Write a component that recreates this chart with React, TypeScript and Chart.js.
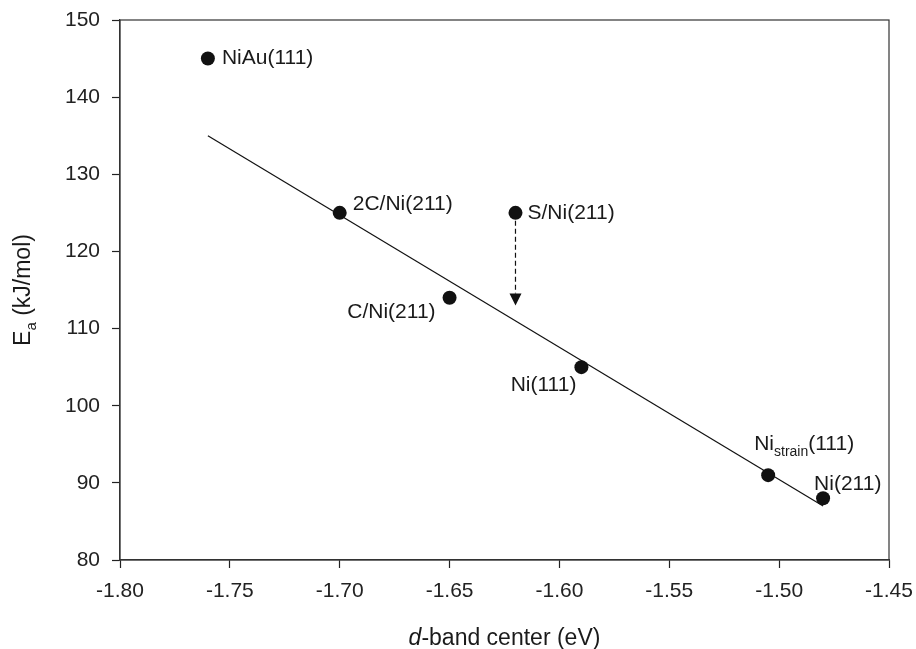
import React, { useEffect, useRef } from "react";
import { Chart, registerables } from "chart.js";

Chart.register(...registerables);

// ---- data ----
const pointNames = ["NiAu(111)", "2C/Ni(211)", "S/Ni(211)", "C/Ni(211)", "Ni(111)", "Ni_strain(111)", "Ni(211)"];
const dBandCenter = [-1.76, -1.70, -1.62, -1.65, -1.59, -1.505, -1.48];
const activationEnergy = [145, 125, 125, 114, 105, 91, 88];
const fitX = [-1.76, -1.48];
const fitY = [135, 87];
const arrowX = -1.62;
const arrowFromY = 125;
const arrowToY = 113;
const xTicks = [-1.8, -1.75, -1.7, -1.65, -1.6, -1.55, -1.5, -1.45];
const yTicks = [80, 90, 100, 110, 120, 130, 140, 150];

// ---- styles / label placement ----
const FONT = "'Liberation Sans', Arial, Helvetica, sans-serif";
const labelPlacement: { dx: number; dy: number; align: CanvasTextAlign }[] = [
  { dx: 14, dy: 0, align: "left" },
  { dx: 13, dy: -9, align: "left" },
  { dx: 12, dy: 0, align: "left" },
  { dx: -14, dy: 14, align: "right" },
  { dx: -5, dy: 18, align: "right" },
  { dx: -14, dy: -31, align: "left" },
  { dx: -9, dy: -14, align: "left" },
];

const annotationPlugin = {
  id: "annotations",
  afterDatasetsDraw(chart: any) {
    const { ctx, chartArea, scales } = chart;
    const xs = scales.x;
    const ys = scales.y;
    ctx.save();
    // frame
    ctx.strokeStyle = "#333";
    ctx.lineWidth = 1.2;
    ctx.strokeRect(chartArea.left, chartArea.top, chartArea.right - chartArea.left, chartArea.bottom - chartArea.top);

    // arrow
    const ax = xs.getPixelForValue(arrowX);
    const ay0 = ys.getPixelForValue(arrowFromY) + 8;
    const ay1 = ys.getPixelForValue(arrowToY);
    const head = 12;
    ctx.strokeStyle = "#111";
    ctx.lineWidth = 1.2;
    ctx.setLineDash([5, 3]);
    ctx.beginPath();
    ctx.moveTo(ax, ay0);
    ctx.lineTo(ax, ay1 - head);
    ctx.stroke();
    ctx.setLineDash([]);
    ctx.fillStyle = "#111";
    ctx.beginPath();
    ctx.moveTo(ax - 6, ay1 - head);
    ctx.lineTo(ax + 6, ay1 - head);
    ctx.lineTo(ax, ay1);
    ctx.closePath();
    ctx.fill();

    // point labels
    ctx.fillStyle = "#1a1a1a";
    ctx.textBaseline = "middle";
    const big = `21px ${FONT}`;
    const small = `14px ${FONT}`;
    pointNames.forEach((name, i) => {
      const px = xs.getPixelForValue(dBandCenter[i]);
      const py = ys.getPixelForValue(activationEnergy[i]);
      const p = labelPlacement[i];
      const tx = px + p.dx;
      const ty = py + p.dy;
      if (name.includes("_")) {
        const base = name.split("_")[0];
        const rest = name.split("_")[1];
        const m = rest.match(/^([a-z]+)(.*)$/);
        const sub = m ? m[1] : "";
        const after = m ? m[2] : rest;
        ctx.textAlign = "left";
        ctx.font = big;
        const w1 = ctx.measureText(base).width;
        ctx.font = small;
        const w2 = ctx.measureText(sub).width;
        ctx.font = big;
        const w3 = ctx.measureText(after).width;
        let sx = tx;
        if (p.align === "right") sx = tx - (w1 + w2 + w3);
        ctx.font = big;
        ctx.fillText(base, sx, ty);
        ctx.font = small;
        ctx.fillText(sub, sx + w1, ty + 8);
        ctx.font = big;
        ctx.fillText(after, sx + w1 + w2, ty);
      } else {
        ctx.font = big;
        ctx.textAlign = p.align;
        ctx.fillText(name, tx, ty);
      }
    });

    // axis titles
    const title = `23px ${FONT}`;
    const cx = (chartArea.left + chartArea.right) / 2;
    ctx.textAlign = "left";
    ctx.font = `italic ${title}`;
    const wd = ctx.measureText("d").width;
    ctx.font = title;
    const wr = ctx.measureText("-band center (eV)").width;
    const startX = cx - (wd + wr) / 2;
    const titleY = chartArea.bottom + 79;
    ctx.font = `italic ${title}`;
    ctx.fillText("d", startX, titleY);
    ctx.font = title;
    ctx.fillText("-band center (eV)", startX + wd, titleY);

    const cy = (chartArea.top + chartArea.bottom) / 2;
    ctx.translate(24, cy);
    ctx.rotate(-Math.PI / 2);
    ctx.font = title;
    const wE = ctx.measureText("E").width;
    ctx.font = `15px ${FONT}`;
    const wa = ctx.measureText("a").width;
    ctx.font = title;
    const wRest = ctx.measureText(" (kJ/mol)").width;
    const sx0 = -(wE + wa + wRest) / 2;
    ctx.fillText("E", sx0, 0);
    ctx.font = `15px ${FONT}`;
    ctx.fillText("a", sx0 + wE, 8);
    ctx.font = title;
    ctx.fillText(" (kJ/mol)", sx0 + wE + wa, 0);
    ctx.restore();
  },
};

export default function App() {
  const ref = useRef<HTMLCanvasElement | null>(null);
  useEffect(() => {
    document.body.style.margin = "0";
    if (!ref.current) return;
    const chart = new Chart(ref.current, {
      type: "scatter",
      data: {
        datasets: [
          {
            data: dBandCenter.map((x, i) => ({ x, y: activationEnergy[i] })),
            pointRadius: 7,
            pointHoverRadius: 7,
            backgroundColor: "#111",
            borderColor: "#111",
            borderWidth: 0,
          },
          {
            type: "line",
            data: fitX.map((x, i) => ({ x, y: fitY[i] })),
            borderColor: "#111",
            borderWidth: 1.2,
            pointRadius: 0,
            fill: false,
          } as any,
        ],
      },
      options: {
        animation: false,
        responsive: true,
        maintainAspectRatio: false,
        layout: { padding: { left: 0, top: 20, right: 27, bottom: 0 } },
        plugins: { legend: { display: false }, tooltip: { enabled: false } },
        scales: {
          x: {
            type: "linear",
            min: -1.8,
            max: -1.45,
            afterBuildTicks: (s: any) => {
              s.ticks = xTicks.map((v) => ({ value: v }));
            },
            afterFit: (s: any) => {
              s.height = 89;
              s.paddingLeft = 0;
              s.paddingRight = 0;
              s.paddingTop = 0;
              s.paddingBottom = 0;
            },
            ticks: {
              callback: (v: any) => Number(v).toFixed(2),
              font: { family: FONT, size: 21 },
              color: "#222",
              padding: 11,
              maxRotation: 0,
              autoSkip: false,
            },
            grid: { drawOnChartArea: false, drawTicks: true, tickLength: 8, color: "#222", tickWidth: 1.2 },
            border: { display: true, color: "#333", width: 1.2 },
          },
          y: {
            type: "linear",
            min: 80,
            max: 150,
            afterBuildTicks: (s: any) => {
              s.ticks = yTicks.map((v) => ({ value: v }));
            },
            afterFit: (s: any) => {
              s.width = 120;
              s.paddingLeft = 0;
              s.paddingRight = 0;
              s.paddingTop = 0;
              s.paddingBottom = 0;
            },
            ticks: {
              callback: (v: any) => String(v),
              font: { family: FONT, size: 21 },
              color: "#222",
              padding: 12,
              autoSkip: false,
            },
            grid: { drawOnChartArea: false, drawTicks: true, tickLength: 8, color: "#222", tickWidth: 1.2 },
            border: { display: true, color: "#333", width: 1.2 },
          },
        },
      },
      plugins: [annotationPlugin],
    });
    return () => chart.destroy();
  }, []);
  return (
    <div style={{ position: "fixed", left: 0, top: 0, width: 916, height: 649, background: "#fff" }}>
      <canvas ref={ref} />
    </div>
  );
}
